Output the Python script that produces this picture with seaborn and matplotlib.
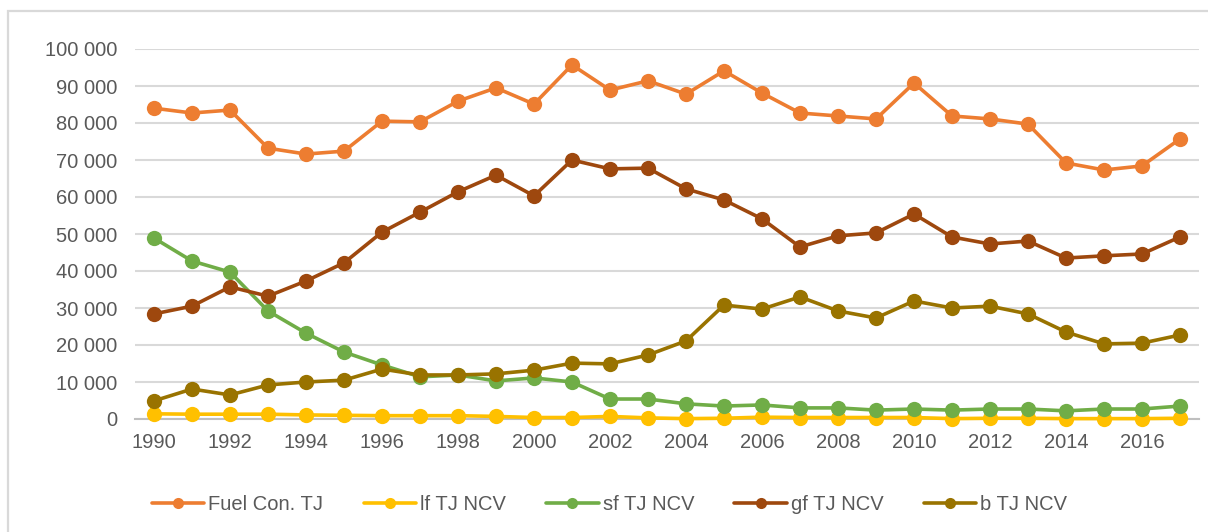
import matplotlib
matplotlib.use("Agg")
import matplotlib.pyplot as plt
from matplotlib.patches import Rectangle
from matplotlib.ticker import FuncFormatter, FixedLocator
import pandas as pd
import seaborn as sns

years = list(range(1990, 2018))

fuel_con_tj = [84000, 82700, 83500, 73200, 71600, 72400, 80500, 80300, 85900, 89500,
               85100, 95700, 88900, 91400, 87800, 94100, 88100, 82700, 81900, 81100,
               90800, 81900, 81100, 79700, 69200, 67300, 68400, 75700]
lf_tj_ncv = [1400, 1300, 1300, 1300, 1100, 1000, 900, 900, 900, 700,
             400, 400, 700, 300, 100, 200, 500, 400, 400, 400,
             400, 100, 200, 200, 100, 100, 100, 200]
sf_tj_ncv = [48900, 42700, 39700, 29200, 23200, 18100, 14600, 11400, 11900, 10300,
             11100, 10000, 5400, 5400, 4100, 3500, 3800, 3000, 3000, 2400,
             2700, 2400, 2700, 2700, 2200, 2700, 2700, 3500]
gf_tj_ncv = [28400, 30500, 35700, 33200, 37300, 42200, 50500, 55900, 61400, 65900,
             60300, 70000, 67600, 67800, 62200, 59200, 54100, 46500, 49500, 50300,
             55400, 49200, 47300, 48100, 43500, 44100, 44600, 49200]
b_tj_ncv = [4900, 8100, 6500, 9200, 10000, 10500, 13500, 11900, 11900, 12200,
            13200, 15100, 14900, 17300, 21100, 30800, 29700, 33000, 29200, 27300,
            31900, 30000, 30500, 28400, 23500, 20300, 20500, 22700]

series_names = ["Fuel Con. TJ", "lf TJ NCV", "sf TJ NCV", "gf TJ NCV", "b TJ NCV"]
series_values = [fuel_con_tj, lf_tj_ncv, sf_tj_ncv, gf_tj_ncv, b_tj_ncv]
series_colors = ["#ED7D31", "#FFC000", "#70AD47", "#9E480E", "#997300"]

frames = [pd.DataFrame({"year": years, "value": vals, "series": name})
          for name, vals in zip(series_names, series_values)]
data = pd.concat(frames, ignore_index=True)

sns.set_theme(style="white")
plt.rcParams["font.family"] = ["Liberation Sans", "DejaVu Sans"]

W, H = 1208, 532
fig = plt.figure(figsize=(W / 100, H / 100), dpi=100)
ax = fig.add_axes([135 / W, 1 - 419 / H, (1199 - 135) / W, (419 - 49) / H])

# light outer frame of the chart area
fig.patches.append(Rectangle((8 / W, -0.05), 1.2, 1 - 11 / H + 0.05,
                             transform=fig.transFigure, fill=False,
                             edgecolor="#D9D9D9", linewidth=1.6))

sns.lineplot(data=data, x="year", y="value", hue="series", hue_order=series_names,
             palette=series_colors, marker="o", markersize=11, markeredgewidth=0,
             linewidth=2.6, ax=ax, legend=False)
for line in ax.lines:
    line.set_clip_on(False)
    line.set_zorder(3)

ax.set_xlim(1989.5, 2017.5)
ax.set_ylim(0, 100000)
ax.yaxis.set_major_locator(FixedLocator(list(range(0, 100001, 10000))))
ax.yaxis.set_major_formatter(FuncFormatter(lambda v, p: f"{int(v):,}".replace(",", " ")))
ax.set_xticks(list(range(1990, 2017, 2)))
ax.set_xlabel("")
ax.set_ylabel("")

ax.grid(axis="y", color="#D9D9D9", linewidth=1.5)
ax.grid(axis="x", visible=False)
ax.set_axisbelow(True)
for side in ["top", "right", "left"]:
    ax.spines[side].set_visible(False)
ax.spines["bottom"].set_color("#BFBFBF")
ax.spines["bottom"].set_linewidth(1.5)
ax.spines["bottom"].set_zorder(2)
ax.tick_params(axis="both", length=0, labelsize=14.5, labelcolor="#595959")
ax.tick_params(axis="y", pad=13)
ax.tick_params(axis="x", pad=10)

handles = [plt.Line2D([0], [0], color=c, marker="o", markersize=8, linewidth=2.6,
                      markeredgewidth=0) for c in series_colors]
fig.legend(handles, series_names, loc="center", bbox_to_anchor=(0.5046, 1 - 505 / H),
           ncol=5, frameon=False, fontsize=14.5, labelcolor="#595959",
           handlelength=2.6, handletextpad=0.2, columnspacing=2.0)

fig.savefig("out.png", dpi=100)
